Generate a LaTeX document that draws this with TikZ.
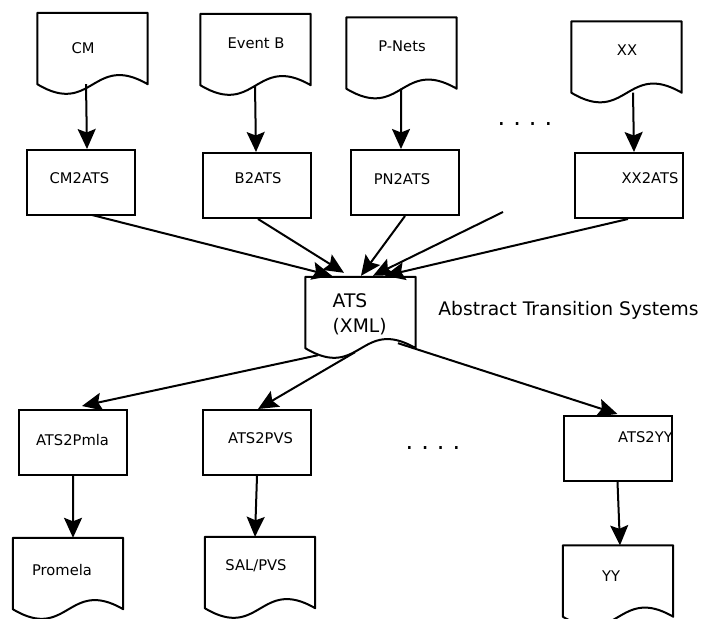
\documentclass[tikz,border=0pt]{standalone}
\usepackage{fontspec}
\setmainfont{DejaVu Sans}
\usetikzlibrary{arrows.meta,calc}
\newcommand\docout[1]{%
  \draw[line width=2bp,line join=round]
    (#1.south west) -- (#1.north west) -- (#1.north east) -- (#1.south east)
    .. controls ($(#1.south east)+(-55,-32)$) and ($(#1.south west)+(55,33)$) .. (#1.south west) -- cycle;}
\begin{document}
\begin{tikzpicture}[x=1bp,y=-1bp,
  docnode/.style={minimum width=110bp,minimum height=71bp,inner sep=0pt,draw=none},
  boxnode/.style={draw,line width=2bp,minimum width=108bp,minimum height=65bp,inner sep=0pt},
  sm/.style={font=\fontsize{14.7bp}{17bp}\selectfont,inner sep=0pt},
  lg/.style={font=\fontsize{18.7bp}{25bp}\selectfont,inner sep=0pt},
  dotsty/.style={font=\fontsize{24bp}{28bp}\selectfont,inner sep=0pt},
  arr/.style={line width=2bp,-{Stealth[length=20bp,width=18bp,inset=3.5bp]}},
  ln/.style={line width=2bp}
]
\useasboundingbox[fill=white] (0,0) rectangle (701,619);

% documents
\node[docnode] (cm)   at (92.5,48.5) {};
\node[docnode] (evb)  at (255.5,49.5) {};
\node[docnode] (pn)   at (401.5,53) {};
\node[docnode] (xx)   at (626.5,57) {};
\node[docnode] (ats)  at (360.5,312.5) {};
\node[docnode] (prom) at (68,573.5) {};
\node[docnode] (sal)  at (260,572.5) {};
\node[docnode] (yy)   at (618,581) {};
\docout{cm}\docout{evb}\docout{pn}\docout{xx}\docout{ats}\docout{prom}\docout{sal}\docout{yy}

% boxes
\node[boxnode] (cm2)  at (81,182.5) {};
\node[boxnode] (b2)   at (257,185.5) {};
\node[boxnode] (pn2)  at (405,182.5) {};
\node[boxnode] (xx2)  at (629,185.5) {};
\node[boxnode] (pmla) at (73,442.5) {};
\node[boxnode] (pvs)  at (257,442.5) {};
\node[boxnode] (yy2)  at (617.5,448.5) {};

% texts
\node[sm] (cmt)   at (83,48) {CM};
\node[sm] (evbt)  at (256,43) {Event B};
\node[sm] (pnt)   at (402,46) {P-Nets};
\node[sm] (xxt)   at (627,50) {XX};
\node[sm] (cm2t)  at (79.5,178) {CM2ATS};
\node[sm] (b2t)   at (258,178) {B2ATS};
\node[sm] (pn2t)  at (402,179) {PN2ATS};
\node[sm] (xx2t)  at (650,178) {XX2ATS};
\node[lg,align=left,anchor=west] (atst) at (332.5,314.5) {ATS\\(XML)};
\node[lg] (abst) at (568.5,310) {Abstract Transition Systems};
\node[sm] (pmlat) at (72.5,440) {ATS2Pmla};
\node[sm] (pvst)  at (260.5,438) {ATS2PVS};
\node[sm,anchor=west] (yy2t) at (618,437) {ATS2YY};
\node[sm] (promt) at (62,570) {Promela};
\node[sm] (salt)  at (256,566) {SAL/PVS};
\node[sm] (yyt)   at (611,576) {YY};
\node[dotsty] (dots1) at (525,124) {.\,\,.\,\,.\,\,.};
\node[dotsty] (dots2) at (433,448) {.\,\,.\,\,.\,\,.};

% arrows top
\draw[arr] ([xshift=-6.5bp]cm.south) -- ([xshift=6bp]cm2.north);
\draw[arr] ([xshift=-0.5bp]evb.south) -- ([xshift=-1bp]b2.north);
\draw[arr] ([xshift=-0.5bp]pn.south) -- ([xshift=-4bp]pn2.north);
\draw[arr] ([xshift=6.5bp]xx.south) -- ([xshift=5bp]xx2.north);

% arrows into ATS
\coordinate (loose) at (503,212);
\draw[arr] ([xshift=11bp,yshift=1bp]cm2.south) -- ([xshift=-28.5bp,yshift=1bp]ats.north);
\draw[arr] ([xshift=1bp]b2.south) -- ([xshift=-16.5bp,yshift=4bp]ats.north);
\draw[arr] (pn2.south) -- ([xshift=0.5bp,yshift=1bp]ats.north);
\draw[arr] (loose) -- ([xshift=12.5bp,yshift=1bp]ats.north);
\draw[arr] ([xshift=-1bp]xx2.south) -- ([xshift=24.5bp,yshift=1bp]ats.north);

% arrows out of ATS
\draw[arr] ([xshift=-42.5bp,yshift=-7bp]ats.south) -- ([xshift=9bp,yshift=3bp]pmla.north);
\draw[arr] ([xshift=-5.5bp,yshift=-4bp]ats.south) -- ([xshift=1bp]pvs.north);
\draw[arr] ([xshift=37.5bp,yshift=5bp]ats.south) -- ([yshift=1bp]yy2.north);

% arrows bottom
\draw[arr] (pmla.south) -- ([xshift=5bp]prom.north);
\draw[arr] (pvs.south) -- ([xshift=-5bp]sal.north);
\draw[arr] (yy2.south) -- ([xshift=2bp]yy.north);
\end{tikzpicture}
\end{document}
